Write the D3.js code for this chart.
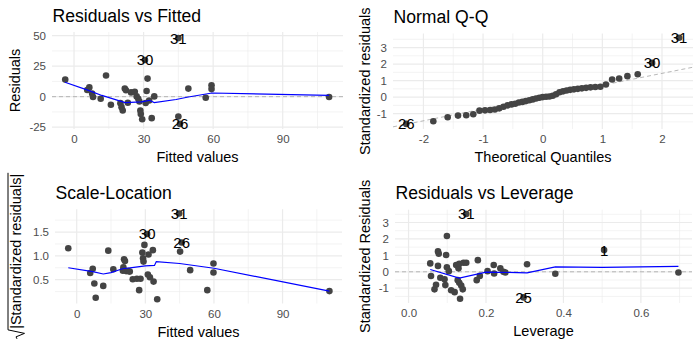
<!DOCTYPE html>
<html>
<head>
<meta charset="utf-8">
<script src="https://cdn.jsdelivr.net/npm/d3@7"></script>
<style>
  body { margin: 0; background: #fff; }
  text { font-family: "Liberation Sans", Arial, Helvetica, sans-serif; }
</style>
</head>
<body>
<div id="my_dataviz"></div>
<script>
// ---------- Residuals vs Fitted ----------
var rvfFitted = [-3.8, 13.8, 6.6, 5.7, 7.8, 8.2, 11.5, 15.9, 20.0, 20.5, 21.0, 21.9, 22.4, 23.2, 24.6, 26.2, 27.0, 27.7, 28.2, 28.6, 28.8, 29.4, 30.9, 31.3, 31.7, 32.4, 33.5, 34.6, 45.0, 49.3, 56.8, 59.3, 59.3, 110.0];
var rvfResid  = [14.0, 17.3, 7.6, 5.5, 2.5, -0.3, -1.7, -6.6, -5.3, -8.6, -11.3, 6.6, 5.2, -5.0, 3.5, 4.0, 0.2, -1.7, -4.0, -11.3, -14.2, -18.5, -5.2, 4.6, 14.8, -3.1, -17.6, 0.2, -16.2, 6.6, -0.9, 9.3, 6.2, -0.3];
var rvfLabelText = ["31", "30", "26"];
var rvfLabelX = [45.0, 30.6, 45.7];
var rvfLabelY = [48.0, 30.0, -22.3];
var rvfSmoothX = [-3.9, 6.2, 12.0, 22.0, 29.0, 32.5, 34.6, 44.0, 49.3, 59.5, 110.0];
var rvfSmoothY = [11.8, 5.2, 1.0, -4.8, -4.2, -3.0, -4.8, -2.3, -0.3, 3.0, 1.0];
var rvfXTicks = [0, 30, 60, 90];
var rvfXMinor = [15, 45, 75, 105];
var rvfYTicks = [-25, 0, 25, 50];
var rvfYMinor = [-12.5, 12.5, 37.5];

// ---------- Normal Q-Q ----------
var qqTheo = [-1.834, -1.593, -1.420, -1.282, -1.164, -1.060, -0.967, -0.882, -0.802, -0.728, -0.657, -0.589, -0.524, -0.461, -0.400, -0.341, -0.282, -0.224, -0.168, -0.112, -0.056, 0.0, 0.056, 0.112, 0.168, 0.224, 0.282, 0.341, 0.400, 0.461, 0.524, 0.589, 0.657, 0.728, 0.802, 0.882, 0.967, 1.060, 1.164, 1.282, 1.420, 1.593];
var qqSample = [-1.46, -1.22, -1.12, -1.10, -1.04, -0.82, -0.80, -0.78, -0.75, -0.68, -0.58, -0.50, -0.44, -0.40, -0.33, -0.29, -0.24, -0.19, -0.14, -0.08, -0.04, 0.00, 0.02, 0.04, 0.08, 0.17, 0.29, 0.35, 0.40, 0.44, 0.47, 0.50, 0.53, 0.56, 0.59, 0.61, 0.63, 0.76, 1.07, 1.13, 1.27, 1.38];
var qqLabelText = ["31", "30", "26"];
var qqLabelX = [2.287, 1.834, -2.287];
var qqLabelY = [3.59, 2.07, -1.62];
var qqLineX = [-2.51, 2.52];
var qqLineY = [-1.80, 1.81];
var qqXTicks = [-2, -1, 0, 1, 2];
var qqXMinor = [-1.5, -0.5, 0.5, 1.5];
var qqYTicks = [-1, 0, 1, 2, 3];
var qqYMinor = [-1.5, -0.5, 0.5, 1.5, 2.5, 3.5];

// ---------- Scale-Location ----------
var slFitted = [-3.7, 5.9, 7.0, 7.7, 8.3, 11.6, 13.8, 16.0, 20.2, 20.4, 20.7, 21.1, 21.6, 22.5, 23.2, 24.5, 26.3, 27.3, 27.9, 28.7, 29.0, 29.2, 29.6, 31.1, 31.4, 32.0, 33.3, 33.6, 35.2, 45.2, 49.6, 57.1, 59.8, 59.8, 110.5];
var slSqrtRes = [1.16, 0.64, 0.73, 0.42, 0.12, 0.37, 1.11, 0.72, 0.69, 0.76, 0.93, 0.89, 0.68, 0.68, 0.67, 0.51, 0.52, 0.28, 0.52, 1.07, 0.95, 0.88, 1.23, 0.61, 1.03, 0.55, 1.12, 0.46, 0.09, 1.09, 0.70, 0.28, 0.84, 0.65, 0.26];
var slLabelText = ["31", "30", "26"];
var slLabelX = [44.8, 30.8, 45.9];
var slLabelY = [1.89, 1.46, 1.28];
var slSmoothX = [-3.7, 7.0, 11.6, 15.0, 20.0, 25.0, 30.0, 34.0, 34.8, 45.0, 60.0, 110.5];
var slSmoothY = [0.75, 0.67, 0.62, 0.65, 0.73, 0.76, 0.79, 0.80, 0.88, 0.84, 0.74, 0.26];
var slXTicks = [0, 30, 60, 90];
var slXMinor = [15, 45, 75, 105];
var slYTicks = [0.5, 1.0, 1.5];
var slYMinor = [0.25, 0.75, 1.25, 1.75];

// ---------- Residuals vs Leverage ----------
var levLeverage = [0.056, 0.058, 0.067, 0.071, 0.076, 0.078, 0.076, 0.082, 0.093, 0.095, 0.097, 0.099, 0.099, 0.104, 0.110, 0.119, 0.123, 0.127, 0.129, 0.131, 0.131, 0.133, 0.136, 0.140, 0.142, 0.149, 0.176, 0.179, 0.184, 0.204, 0.220, 0.221, 0.237, 0.245, 0.250, 0.306, 0.379, 0.697];
var levStdRes = [0.51, -0.26, -1.07, -0.79, 1.24, 1.10, 0.36, -0.36, -0.45, -0.81, 1.02, 2.18, 0.28, 0.04, -1.12, -1.24, 0.41, -0.51, 0.21, 0.49, -0.67, -1.64, -0.84, -1.07, 0.55, 0.55, -0.51, 0.71, -0.25, 0.04, 0.41, -0.10, 0.21, 0.0, -0.04, 0.46, -0.12, -0.04];
var levLabelText = ["31", "25", "1"];
var levLabelX = [0.149, 0.297, 0.505];
var levLabelY = [3.52, -1.56, 1.32];
var levSmoothX = [0.056, 0.131, 0.2, 0.306, 0.379, 0.5, 0.697];
var levSmoothY = [0.14, -0.38, -0.02, -0.06, 0.30, 0.27, 0.33];
var levXTicks = [0.0, 0.2, 0.4, 0.6];
var levXMinor = [0.1, 0.3, 0.5, 0.7];
var levYTicks = [-1, 0, 1, 2, 3];
var levYMinor = [-1.5, -0.5, 0.5, 1.5, 2.5, 3.5];

var FONT = '"Liberation Sans", Arial, Helvetica, sans-serif';

// append the svg object to the body of the page
var svg = d3.select("#my_dataviz")
    .append("svg")
    .attr("width", 700)
    .attr("height", 350);

svg.append("rect").attr("width", 700).attr("height", 350).attr("fill", "#ffffff");

var intFmt = function(d) { return String(d); };
var oneFmt = function(d) { return d.toFixed(1); };

function zip(a, b) {
    return a.map(function(v, i) { return [v, b[i]]; });
}

function drawPanel(p) {
    var x = d3.scaleLinear().domain(p.xDomain).range([p.left, p.right]);
    var y = d3.scaleLinear().domain(p.yDomain).range([p.bottom, p.top]);
    var g = svg.append("g");

    // grid: minor first, then major
    g.selectAll(null).data(p.xMinor).enter().append("line")
        .attr("x1", function(d) { return x(d); }).attr("x2", function(d) { return x(d); })
        .attr("y1", p.top).attr("y2", p.bottom)
        .attr("stroke", "#EBEBEB").attr("stroke-width", 0.6);
    g.selectAll(null).data(p.yMinor).enter().append("line")
        .attr("y1", function(d) { return y(d); }).attr("y2", function(d) { return y(d); })
        .attr("x1", p.left).attr("x2", p.right)
        .attr("stroke", "#EBEBEB").attr("stroke-width", 0.6);
    g.selectAll(null).data(p.xTicks).enter().append("line")
        .attr("x1", function(d) { return x(d); }).attr("x2", function(d) { return x(d); })
        .attr("y1", p.top).attr("y2", p.bottom)
        .attr("stroke", "#EBEBEB").attr("stroke-width", 1.2);
    g.selectAll(null).data(p.yTicks).enter().append("line")
        .attr("y1", function(d) { return y(d); }).attr("y2", function(d) { return y(d); })
        .attr("x1", p.left).attr("x2", p.right)
        .attr("stroke", "#EBEBEB").attr("stroke-width", 1.2);

    // axes (text only, like theme_minimal)
    var ax = g.append("g")
        .attr("transform", "translate(0," + p.bottom + ")")
        .call(d3.axisBottom(x).tickValues(p.xTicks).tickSize(0).tickPadding(6).tickFormat(p.xFmt));
    var ay = g.append("g")
        .attr("transform", "translate(" + p.left + ",0)")
        .call(d3.axisLeft(y).tickValues(p.yTicks).tickSize(0).tickPadding(6).tickFormat(p.yFmt));
    [ax, ay].forEach(function(a) {
        a.select(".domain").remove();
        a.attr("font-family", FONT).attr("font-size", 11.5);
        a.selectAll("text").attr("fill", "#4D4D4D");
    });

    // reference line (dashed)
    if (p.refX) {
        g.append("path")
            .datum(zip(p.refX, p.refY))
            .attr("d", d3.line().x(function(d) { return x(d[0]); }).y(function(d) { return y(d[1]); }))
            .attr("fill", "none")
            .attr("stroke", "#A6A6A6")
            .attr("stroke-width", 0.8)
            .attr("stroke-dasharray", "4,3");
    }

    // points
    var pts = zip(p.px, p.py).concat(zip(p.labX, p.labY));
    g.selectAll(null).data(pts).enter().append("circle")
        .attr("cx", function(d) { return x(d[0]); })
        .attr("cy", function(d) { return y(d[1]); })
        .attr("r", 3.3)
        .attr("fill", "#444444");

    // smoother
    if (p.smX) {
        g.append("path")
            .datum(zip(p.smX, p.smY))
            .attr("d", d3.line().x(function(d) { return x(d[0]); }).y(function(d) { return y(d[1]); }))
            .attr("fill", "none")
            .attr("stroke", "#0000FF")
            .attr("stroke-width", 1.2);
    }

    // point labels
    g.selectAll(null).data(p.labText).enter().append("text")
        .attr("x", function(d, i) { return x(p.labX[i]); })
        .attr("y", function(d, i) { return y(p.labY[i]); })
        .attr("dy", "0.36em")
        .attr("text-anchor", "middle")
        .attr("font-size", 15)
        .attr("fill", "#000")
        .text(function(d) { return d; });

    // titles
    g.append("text")
        .attr("x", p.left + 0.5).attr("y", p.top - 10.5)
        .attr("font-size", 17.6)
        .attr("fill", "#000")
        .text(p.title);
    g.append("text")
        .attr("x", (p.left + p.right) / 2).attr("y", p.bottom + 33)
        .attr("text-anchor", "middle")
        .attr("font-size", 14.5)
        .attr("fill", "#000")
        .text(p.xTitle);

    var yt = g.append("g")
        .attr("transform", "translate(" + p.yTitleX + "," + (p.top + p.bottom) / 2 + ") rotate(-90)");
    if (p.sqrtTitle) {
        // sqrt(|Standardized residuals|) like R plotmath
        var t = yt.append("text")
            .attr("text-anchor", "middle")
            .attr("x", 5)
            .attr("font-size", 14.5)
            .attr("fill", "#000")
            .text(p.yTitle);
        var L = t.node().getComputedTextLength();
        var x0 = 5 - L / 2 - 1;
        yt.append("path")
            .attr("d", "M" + (x0 - 9) + ",-4 L" + (x0 - 7) + ",-5 L" + (x0 - 3.5) + ",3.5 L" + x0 + ",-13 L" + (x0 + L + 2) + ",-13")
            .attr("fill", "none")
            .attr("stroke", "#000")
            .attr("stroke-width", 1);
    } else {
        yt.append("text")
            .attr("text-anchor", "middle")
            .attr("font-size", 14.5)
            .attr("fill", "#000")
            .text(p.yTitle);
    }
}

drawPanel({
    title: "Residuals vs Fitted", xTitle: "Fitted values", yTitle: "Residuals",
    left: 52, right: 343, top: 32, bottom: 129, yTitleX: 20,
    xDomain: [-9.5, 116], yDomain: [-26.5, 53],
    xTicks: rvfXTicks, xMinor: rvfXMinor, yTicks: rvfYTicks, yMinor: rvfYMinor,
    xFmt: intFmt, yFmt: intFmt,
    px: rvfFitted, py: rvfResid,
    labText: rvfLabelText, labX: rvfLabelX, labY: rvfLabelY,
    smX: rvfSmoothX, smY: rvfSmoothY,
    refX: [-9.5, 116], refY: [0, 0]
});

drawPanel({
    title: "Normal Q-Q", xTitle: "Theoretical Quantiles", yTitle: "Standardized residuals",
    left: 393, right: 693, top: 33.5, bottom: 129, yTitleX: 370,
    xDomain: [-2.51, 2.52], yDomain: [-1.93, 3.85],
    xTicks: qqXTicks, xMinor: qqXMinor, yTicks: qqYTicks, yMinor: qqYMinor,
    xFmt: intFmt, yFmt: intFmt,
    px: qqTheo, py: qqSample,
    labText: qqLabelText, labX: qqLabelX, labY: qqLabelY,
    refX: qqLineX, refY: qqLineY
});

drawPanel({
    title: "Scale-Location", xTitle: "Fitted values", yTitle: "|Standardized residuals|", sqrtTitle: true,
    left: 55, right: 342, top: 209.2, bottom: 303.5, yTitleX: 21,
    xDomain: [-9.5, 116], yDomain: [0, 1.98],
    xTicks: slXTicks, xMinor: slXMinor, yTicks: slYTicks, yMinor: slYMinor,
    xFmt: intFmt, yFmt: oneFmt,
    px: slFitted, py: slSqrtRes,
    labText: slLabelText, labX: slLabelX, labY: slLabelY,
    smX: slSmoothX, smY: slSmoothY
});

drawPanel({
    title: "Residuals vs Leverage", xTitle: "Leverage", yTitle: "Standardized Residuals",
    left: 395, right: 692, top: 209.7, bottom: 303, yTitleX: 370,
    xDomain: [-0.035, 0.732], yDomain: [-1.9, 3.78],
    xTicks: levXTicks, xMinor: levXMinor, yTicks: levYTicks, yMinor: levYMinor,
    xFmt: oneFmt, yFmt: intFmt,
    px: levLeverage, py: levStdRes,
    labText: levLabelText, labX: levLabelX, labY: levLabelY,
    smX: levSmoothX, smY: levSmoothY,
    refX: [-0.035, 0.732], refY: [0, 0]
});
</script>
</body>
</html>
